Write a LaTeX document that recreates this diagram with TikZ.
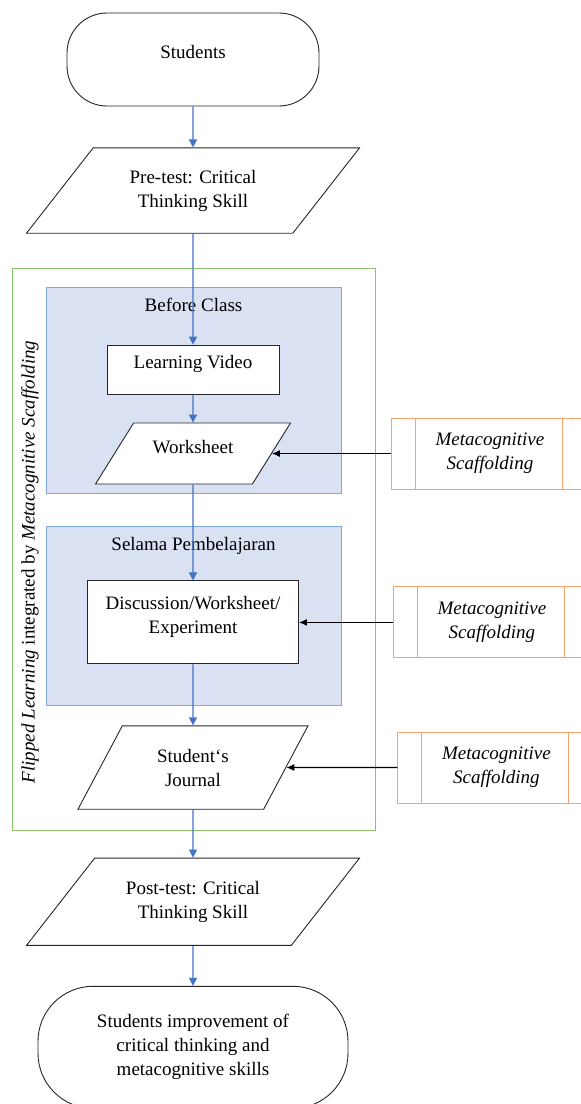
\documentclass[tikz,border=0pt]{standalone}
\usepackage{fontspec}
\setmainfont{Liberation Serif}
\usetikzlibrary{arrows.meta,positioning,shapes.geometric}
\definecolor{flowblue}{HTML}{4472C4}
\definecolor{groupfill}{HTML}{D9E1F2}
\definecolor{groupline}{HTML}{7FAADF}
\definecolor{outergreen}{HTML}{8DC26F}
\definecolor{scaffold}{HTML}{F4A46A}
\tikzset{
  terminal/.style={draw=black!85,line width=0.9pt,fill=white,rounded corners=40pt,align=center},
  dataio/.style={draw=black!85,line width=0.9pt,fill=white,trapezium,trapezium stretches body=true,
    align=center,inner xsep=0pt},
  process/.style={draw=black!85,line width=0.9pt,fill=white,align=center,inner sep=0pt},
  predef/.style={draw=scaffold,line width=1pt,fill=white,minimum width=197pt,minimum height=71pt,
    align=center,font=\fontsize{19}{24}\selectfont\itshape,
    path picture={\draw[scaffold,line width=1pt]
      ([xshift=24pt]path picture bounding box.north west) -- ([xshift=24pt]path picture bounding box.south west)
      ([xshift=-26pt]path picture bounding box.north east) -- ([xshift=-26pt]path picture bounding box.south east);}},
  group/.style={draw=groupline,line width=0.8pt,fill=groupfill},
  outer/.style={draw=outergreen,line width=0.9pt},
  arrow/.style={-{Triangle[length=8pt,width=8pt]},draw=flowblue,line width=1.3pt},
  relation/.style={-{Latex[length=8pt,width=7pt]},draw=black,line width=1.1pt}
}
\begin{document}
\begin{tikzpicture}[x=1pt,y=-1pt,font=\fontsize{19}{24}\selectfont]
  \useasboundingbox (0,0) rectangle (581,1104);
  % frames behind the flow
  \node[outer,minimum width=363pt,minimum height=562pt] (flipped) at (193.5,549) {};
  \node[group,minimum width=295pt,minimum height=206pt] (before) at (193.5,390) {};
  \node[group,minimum width=295pt,minimum height=179pt] (during) at (193.5,615.5) {};
  \node (beforelbl) at (193.5,305) {Before Class};
  \node (duringlbl) at (193.5,546) {Selama Pembelajaran};
  \node[rotate=90] (sidelbl) at (30,562) {\textit{Flipped Learning} integrated by \textit{Metacognitive Scaffolding}};

  % main column
  \node[terminal,minimum width=252pt,minimum height=93pt,text depth=15pt] (stu) at (193,59.5) {Students};
  \node[dataio,trapezium left angle=52,trapezium right angle=128,minimum width=333pt,inner ysep=22pt,
    below=41pt of stu] (pre) {Pre-test: Critical\\Thinking Skill};
  \node[process,minimum width=172pt,minimum height=49pt,text depth=15pt,below=111pt of pre] (video) {Learning Video};
  \node[dataio,trapezium left angle=58,trapezium right angle=122,minimum width=195pt,inner ysep=17.5pt,
    text height=13pt,text depth=13pt,below=28pt of video] (sheet) {Worksheet};
  \node[process,minimum width=211pt,minimum height=83pt,below=96pt of sheet] (discuss)
    {Discussion/Worksheet/\\Experiment\\[-8pt]\mbox{}};
  \node[dataio,trapezium left angle=62,trapezium right angle=118,minimum width=230pt,inner ysep=23pt,
    below=61pt of discuss] (journal) {Student`s\\Journal};
  \node[dataio,trapezium left angle=52,trapezium right angle=128,minimum width=333pt,inner ysep=23pt,
    below=48pt of journal] (post) {Post-test: Critical\\Thinking Skill};
  \node[terminal,rounded corners=55pt,minimum width=310pt,minimum height=122pt,below=40pt of post] (result)
    {Students improvement of\\critical thinking and\\metacognitive skills};

  % scaffolding boxes
  \node[predef,right=119pt of sheet] (scaf1) {Metacognitive\\Scaffolding};
  \node[predef,right=94pt of discuss] (scaf2) {Metacognitive\\Scaffolding};
  \node[predef,right=111pt of journal] (scaf3) {Metacognitive\\Scaffolding};

  \draw[arrow] (stu) -- (pre);
  \draw[arrow] (pre) -- (video);
  \draw[arrow] (video) -- (sheet);
  \draw[arrow] (sheet) -- (discuss);
  \draw[arrow] (discuss) -- (journal);
  \draw[arrow] (journal) -- (post);
  \draw[arrow] (post) -- (result);
  \draw[relation] (scaf1) -- (sheet);
  \draw[relation] (scaf2) -- (discuss);
  \draw[relation] (scaf3) -- (journal);
\end{tikzpicture}
\end{document}
